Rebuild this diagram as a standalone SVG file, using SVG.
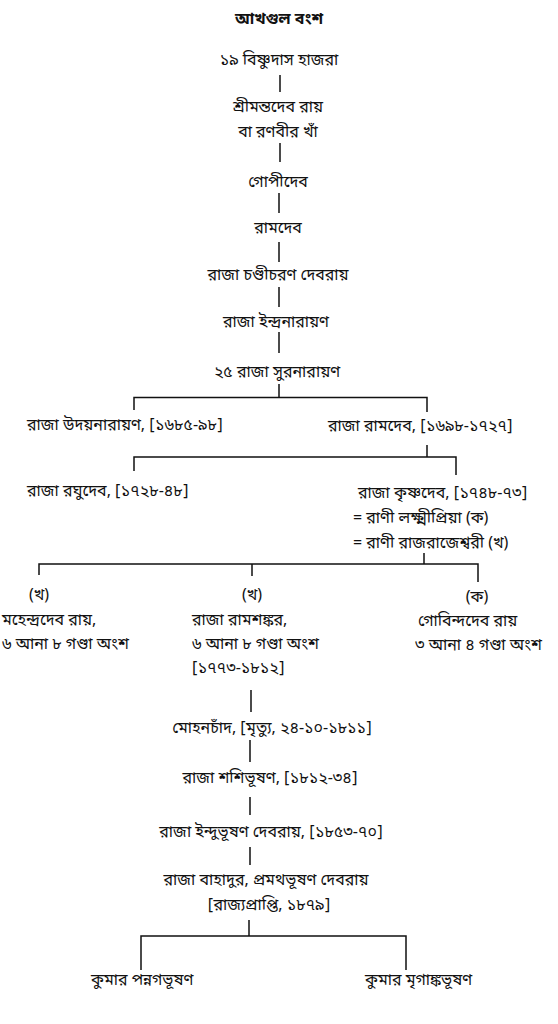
<svg xmlns="http://www.w3.org/2000/svg" width="558" height="1024" viewBox="0 0 558 1024">
<style>
text{font-family:"Noto Sans Bengali","Noto Serif Bengali","Noto Sans",sans-serif;font-size:16px;fill:#111}
.m{text-anchor:middle}
.t{font-size:16px;font-weight:bold}
#connectors path{stroke:#111;stroke-width:1.5;fill:none}
</style>
<rect width="558" height="1024" fill="#fff"/>
<g id="connectors">
<path d="M280 75V92M280 143V162M279 193V213M279 242V262M279 287V307M279 332V353M279 384V397.5"/>
<path d="M134 410V397.5H427V412"/>
<path d="M427 445V457M134 471V457H456V475"/>
<path d="M424 553V564M39 575V564H478V582M252 564V576"/>
<path d="M251 690V712M250 740V762M250 797V815M250 847V865M249 920V936"/>
<path d="M141 970V936H406V970"/>
</g>
<g id="title"><text class="m t" x="279" y="24">আখগুল বংশ</text></g>
<g id="n19"><text class="m" x="279" y="65">১৯ বিষ্ণুদাস হাজরা</text></g>
<g id="srimanta"><text class="m" x="278" y="112">শ্রীমন্তদেব রায়</text><text class="m" x="278" y="137">বা রণবীর খাঁ</text></g>
<g id="gopi"><text class="m" x="278" y="187">গোপীদেব</text></g>
<g id="ramdeb1"><text class="m" x="278" y="233">রামদেব</text></g>
<g id="chandi"><text class="m" x="278" y="280">রাজা চণ্ডীচরণ দেবরায়</text></g>
<g id="indra"><text class="m" x="276" y="327">রাজা ইন্দ্রনারায়ণ</text></g>
<g id="n25"><text class="m" x="277" y="377">২৫ রাজা সুরনারায়ণ</text></g>
<g id="uday"><text x="27" y="430">রাজা উদয়নারায়ণ, [১৬৮৫-৯৮]</text></g>
<g id="ramdeb2"><text x="328" y="431">রাজা রামদেব, [১৬৯৮-১৭২৭]</text></g>
<g id="raghu"><text x="27" y="496">রাজা রঘুদেব, [১৭২৮-৪৮]</text></g>
<g id="krishna"><text x="358" y="498">রাজা কৃষ্ণদেব, [১৭৪৮-৭৩]</text><text x="353" y="523">= রাণী লক্ষ্মীপ্রিয়া (ক)</text><text x="353" y="548">= রাণী রাজরাজেশ্বরী (খ)</text></g>
<g id="mahendra"><text class="m" x="39" y="600">(খ)</text><text x="2" y="625">মহেন্দ্রদেব রায়,</text><text x="2" y="649">৬ আনা ৮ গণ্ডা অংশ</text></g>
<g id="ramshankar"><text class="m" x="252" y="600">(খ)</text><text x="192" y="625">রাজা রামশঙ্কর,</text><text x="192" y="649">৬ আনা ৮ গণ্ডা অংশ</text><text x="192" y="673">[১৭৭৩-১৮১২]</text></g>
<g id="gobinda"><text class="m" x="477" y="602">(ক)</text><text x="418" y="626">গোবিন্দদেব রায়</text><text x="415" y="650">৩ আনা ৪ গণ্ডা অংশ</text></g>
<g id="mohan"><text class="m" x="272" y="733">মোহনচাঁদ, [মৃত্যু, ২৪-১০-১৮১১]</text></g>
<g id="shashi"><text class="m" x="270" y="783">রাজা শশিভূষণ, [১৮১২-৩৪]</text></g>
<g id="indubhushan"><text class="m" x="271" y="837">রাজা ইন্দুভূষণ দেবরায়, [১৮৫৩-৭০]</text></g>
<g id="pramatha"><text class="m" x="266" y="885">রাজা বাহাদুর, প্রমথভূষণ দেবরায়</text><text class="m" x="269" y="910">[রাজ্যপ্রাপ্তি, ১৮৭৯]</text></g>
<g id="pannaga"><text x="91" y="985">কুমার পন্নগভূষণ</text></g>
<g id="mriganka"><text x="365" y="985">কুমার মৃগাঙ্কভূষণ</text></g>
</svg>
